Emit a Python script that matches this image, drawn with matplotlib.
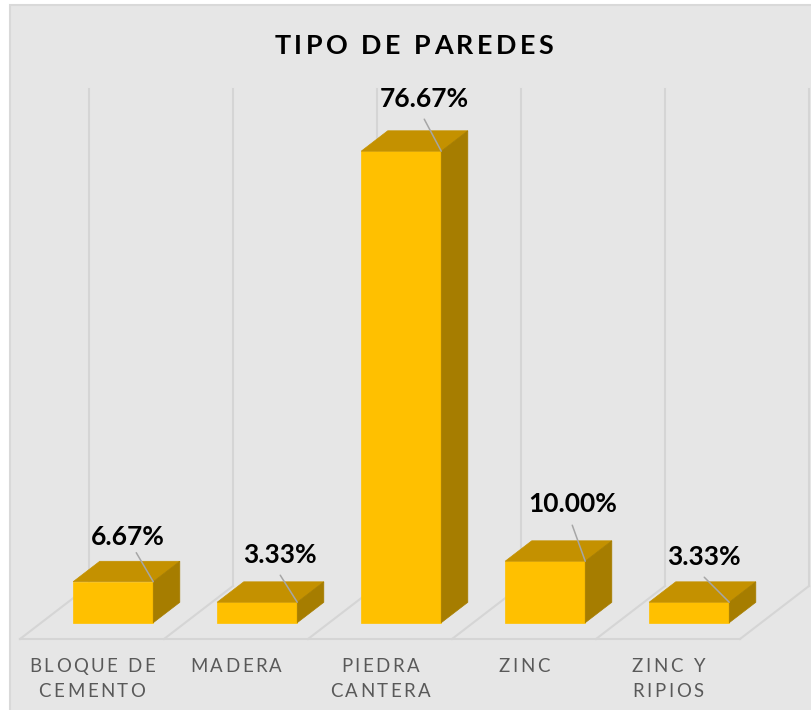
import matplotlib
matplotlib.use("Agg")
import matplotlib.pyplot as plt
from matplotlib.patches import Polygon, Rectangle
from matplotlib.font_manager import FontProperties
from matplotlib.transforms import IdentityTransform

# datos
categorias = [["BLOQUE DE", "CEMENTO"], ["MADERA"], ["PIEDRA", "CANTERA"],
              ["ZINC"], ["ZINC Y", "RIPIOS"]]
porcentajes = [6.67, 3.33, 76.67, 10.00, 3.33]
etiquetas = ["6.67%", "3.33%", "76.67%", "10.00%", "3.33%"]
titulo = "TIPO DE PAREDES"

# layout (pixeles)
W, H, DPI = 812, 710, 100
PX_CAT = 144.0      # px por categoria
PX_PCT = 6.15       # px por punto porcentual
X0, Y0 = 20.0, 639.0  # esquina frontal izquierda del piso
DX = 69.0 / PX_CAT  # profundidad del piso en unidades de datos
DY = 53.0 / PX_PCT
ZTOP = 80.8         # alto de la pared del fondo
# posicion de etiquetas respecto a la esquina superior derecha de la barra (px, y hacia abajo)
etq_off = [(-25, -37), (-17, -39), (-17, -44), (-13, -49), (-25, -37)]
lider_off = [(-17, -29), (-17, -27), (-17, -32), (-13, -36), (-25, -25)]

FRENTE = "#FFC000"
TECHO = "#C49100"
LADO = "#A67D00"
GRID = "#D5D5D5"

fig = plt.figure(figsize=(W / DPI, H / DPI), dpi=DPI, facecolor="white")
fig.patches.append(Rectangle((10 / W, -0.1), 1.0, 1.1 - 5 / H, transform=fig.transFigure,
                             fc="#E6E6E6", ec="#D9D9D9", lw=1.5, zorder=-10))
ax = fig.add_axes([0, 0, 1, 1])
ax.set_xlim(-X0 / PX_CAT, (W - X0) / PX_CAT)
ax.set_ylim(-(H - Y0) / PX_PCT, Y0 / PX_PCT)
ax.axis("off")
ax.patch.set_alpha(0)


def proj(u, w, z):
    return (u + w * DX, z + w * DY)


n = len(porcentajes)
# pared del fondo y piso
for i in range(n + 1):
    ax.plot(*zip(proj(i, 1, 0), proj(i, 1, ZTOP)), color=GRID, lw=1.5, zorder=1)
    ax.plot(*zip(proj(i, 0, 0), proj(i, 1, 0)), color=GRID, lw=1.5, zorder=1)
ax.plot(*zip(proj(0, 0, 0), proj(n, 0, 0)), color=GRID, lw=1.5, zorder=1)

# barras 3D
w0, w1 = 0.3075, 0.6925
for i, v in enumerate(porcentajes):
    u0, u1 = i + 0.222, i + 0.778
    caras = [
        ([proj(u0, w0, 0), proj(u1, w0, 0), proj(u1, w0, v), proj(u0, w0, v)], FRENTE),
        ([proj(u0, w0, v), proj(u1, w0, v), proj(u1, w1, v), proj(u0, w1, v)], TECHO),
        ([proj(u1, w0, 0), proj(u1, w1, 0), proj(u1, w1, v), proj(u1, w0, v)], LADO),
    ]
    for pts, c in caras:
        ax.add_patch(Polygon(pts, closed=True, fc=c, ec=c, lw=0.5, zorder=3))
    esquina = proj(u1, w0, v)
    lx, ly = lider_off[i]
    ax.annotate("", xy=esquina, xytext=(lx * 0.72, -ly * 0.72), textcoords="offset points",
                arrowprops=dict(arrowstyle="-", color="#A6A6A6", lw=1.1,
                                shrinkA=0, shrinkB=0), zorder=4)
    ex, ey = etq_off[i]
    ax.annotate(etiquetas[i], xy=esquina, xytext=(ex * 0.72, -ey * 0.72),
                textcoords="offset points", ha="center", va="baseline",
                fontsize=19, fontweight="bold", family="Lato", color="black", zorder=5)

fig.canvas.draw()
rend = fig.canvas.get_renderer()


def texto_espaciado(x, y, s, prop, espacio, color):
    # x, y en px de pantalla (y hacia arriba), centrado en x, linea base en y
    ref = rend.get_text_width_height_descent("HH", prop, ismath=False)[0]
    avances = [rend.get_text_width_height_descent("H" + c + "H", prop, ismath=False)[0] - ref
               for c in s]
    total = sum(avances) + espacio * (len(s) - 1)
    pos = x - total / 2
    for c, a in zip(s, avances):
        if c != " ":
            fig.text(pos + a / 2, y, c, fontproperties=prop, color=color,
                     ha="center", va="baseline", transform=IdentityTransform())
        pos += a + espacio


prop_tit = FontProperties(family="Lato", weight="bold", size=19.4)
texto_espaciado(414, H - 54, titulo, prop_tit, 3.5, "black")

prop_cat = FontProperties(family="Lato", size=13.4)
for i, lineas in enumerate(categorias):
    cx, cy = ax.transData.transform(proj(i + 0.5, 0, 0))
    for k, linea in enumerate(lineas):
        texto_espaciado(cx, cy - 32.7 - 25.5 * k, linea, prop_cat, 2.5, "#595959")

fig.savefig("out.png", dpi=DPI, facecolor=fig.get_facecolor())
